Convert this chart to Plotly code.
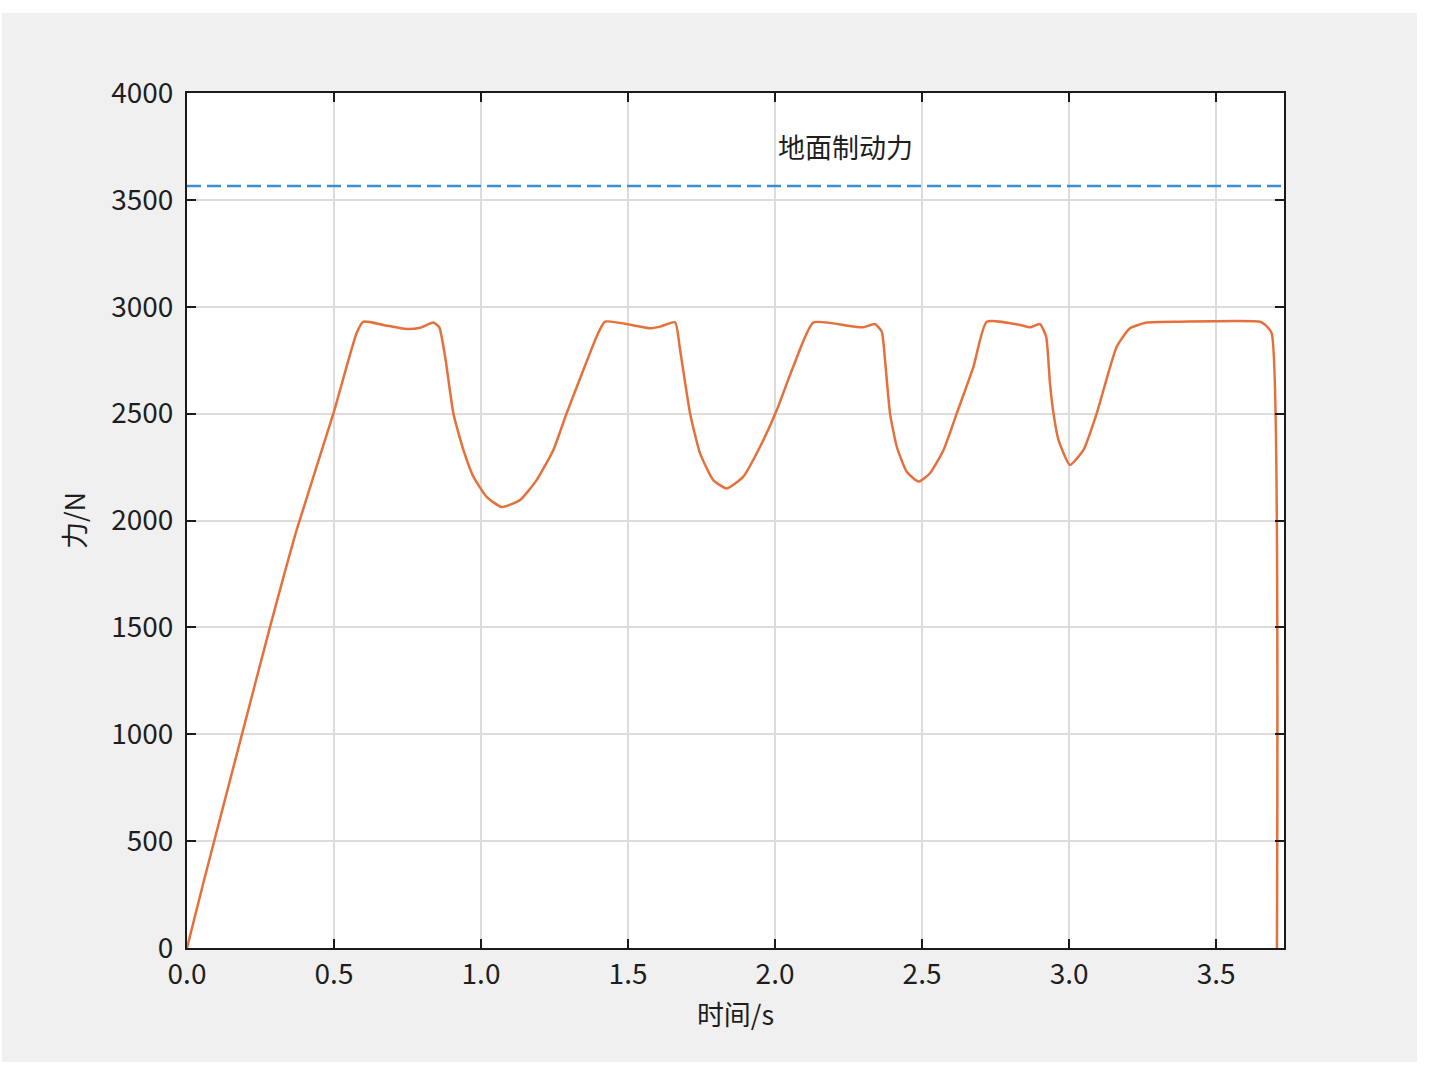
import plotly.graph_objects as go

# ---- data ----
time_s = [0.000, 0.057, 0.187, 0.282, 0.373, 0.498, 0.577, 0.600, 0.668, 0.747, 0.793, 0.838, 0.858,
          0.878, 0.906, 0.940, 0.974, 1.019, 1.070, 1.133, 1.189, 1.246, 1.291, 1.348, 1.393, 1.422,
          1.529, 1.575, 1.609, 1.660, 1.677, 1.711, 1.745, 1.790, 1.836, 1.892, 1.949, 2.006, 2.062,
          2.130, 2.255, 2.300, 2.340, 2.363, 2.374, 2.391, 2.414, 2.448, 2.488, 2.527, 2.573, 2.618,
          2.675, 2.720, 2.833, 2.867, 2.901, 2.922, 2.935, 2.947, 2.964, 3.003, 3.049, 3.094, 3.162,
          3.207, 3.264, 3.378, 3.650, 3.667, 3.689, 3.707]
force_N = [0, 312, 1000, 1500, 1956, 2501, 2877, 2930, 2915, 2896, 2902, 2926, 2904,
           2766, 2501, 2330, 2205, 2111, 2063, 2096, 2189, 2330, 2501, 2704, 2860, 2930,
           2910, 2899, 2907, 2927, 2798, 2501, 2314, 2189, 2150, 2205, 2345, 2517, 2720,
           2926, 2910, 2904, 2919, 2883, 2751, 2501, 2345, 2228, 2182, 2221, 2330, 2501,
           2720, 2930, 2915, 2904, 2919, 2860, 2642, 2501, 2377, 2260, 2330, 2501, 2813,
           2899, 2926, 2930, 2930, 2915, 2876, 0]
ground_brake_force = 3565          # 地面制动力
x_limit = [0, 3.731]
y_limit = [0, 4000]
x_ticks = [0, 0.5, 1.0, 1.5, 2.0, 2.5, 3.0, 3.5]
y_ticks = [0, 500, 1000, 1500, 2000, 2500, 3000, 3500, 4000]
label_text = "地面制动力"
label_pos = (2.238, 3748)

FONT = "Noto Sans CJK SC"
W, H = 1430, 1070
L, R, T, B = 187, 146, 93, 122
pw, ph = W - L - R, H - T - B
TXT = "#1e1e1e"

fig = go.Figure()
fig.add_trace(go.Scatter(x=x_limit, y=[ground_brake_force] * 2, mode="lines",
                         line=dict(color="#3a8fd3", width=2.5, dash="14px,6px"),
                         showlegend=False, hoverinfo="skip"))
fig.add_trace(go.Scatter(x=time_s, y=force_N, mode="lines",
                         line=dict(color="#e5703c", width=2.5, shape="spline", smoothing=0.5),
                         showlegend=False))

fig.add_annotation(x=label_pos[0], y=label_pos[1], text=label_text, showarrow=False,
                   font=dict(family=FONT, size=27, color=TXT))

# background panel (grey) and white plotting area
def px_to_paper_x(px):
    return (px - L) / pw

def py_to_paper_y(py):
    return (H - B - py) / ph

fig.add_shape(type="rect", xref="paper", yref="paper", layer="below",
              x0=px_to_paper_x(2), x1=px_to_paper_x(1417),
              y0=py_to_paper_y(1062), y1=py_to_paper_y(13),
              fillcolor="#f0f0f0", line=dict(width=0))
fig.add_shape(type="rect", xref="paper", yref="paper", layer="below",
              x0=0, x1=1, y0=0, y1=1, fillcolor="white", line=dict(width=0))

axis_common = dict(showline=True, linecolor="#1a1a1a", linewidth=2, mirror="allticks",
                   ticks="inside", ticklen=9, tickwidth=2, tickcolor="#1a1a1a",
                   showgrid=True, gridcolor="#dcdcdc", gridwidth=1.5, zeroline=False,
                   tickfont=dict(family=FONT, size=28, color=TXT))

fig.update_xaxes(range=x_limit, tickvals=x_ticks, tickformat=".1f", ticklabelstandoff=0,
                 title=dict(text="时间/s", font=dict(family=FONT, size=27, color=TXT), standoff=16),
                 **axis_common)
fig.update_yaxes(range=y_limit, tickvals=y_ticks, ticklabelstandoff=6,
                 title=dict(text="力/N", font=dict(family=FONT, size=27, color=TXT), standoff=18),
                 **axis_common)

fig.update_layout(width=W, height=H, margin=dict(l=L, r=R, t=T, b=B, autoexpand=False),
                  paper_bgcolor="white", plot_bgcolor="white",
                  font=dict(family=FONT, color=TXT))

fig.write_html("out.html")
